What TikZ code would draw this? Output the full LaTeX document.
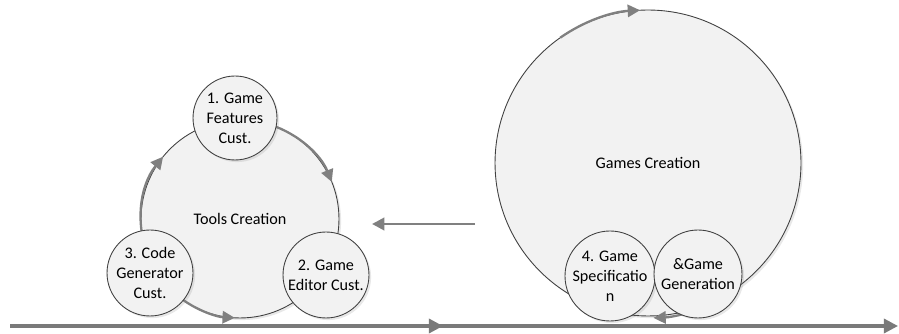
\documentclass[tikz,border=0pt]{standalone}
\usepackage{fontspec}
\setmainfont{Carlito}
\usetikzlibrary{arrows.meta,shadows}

\tikzset{
  stage/.style={circle,draw=black!75,line width=0.5pt,fill=black!5,
    drop shadow={opacity=0.18,shadow xshift=1.2pt,shadow yshift=-1.2pt},
    align=center,inner sep=0pt,font=\fontsize{9.2}{11.3}\selectfont},
  flow/.style={draw=black!50,line width=1.3pt,-{Triangle[length=7pt,width=7pt]}},
  axis/.style={draw=black!52,line width=1.8pt,-{Triangle[length=8pt,width=8pt]}}
}

\begin{document}
\begin{tikzpicture}[x=0.02cm,y=0.02cm]
\useasboundingbox(0,0)rectangle(899,334);
\node[stage,minimum size=3.96cm](tools)at(240,115){Tools Creation};
\node[stage,minimum size=6.12cm](games)at(648,171){\raisebox{-0.1cm}{Games Creation}};
\draw[flow](tools.center)++(205:1.98cm)arc[start angle=205,end angle=141,radius=1.98cm];
\draw[flow](tools.center)++(72:1.98cm)arc[start angle=72,end angle=22,radius=1.98cm];
\draw[flow](tools.center)++(235:1.98cm)arc[start angle=235,end angle=267,radius=1.98cm];
\draw[flow](games.center)++(125:3.06cm)arc[start angle=125,end angle=93,radius=3.06cm];
\draw[flow](games.center)++(292:3.1cm)arc[start angle=292,end angle=272,radius=3.1cm];
\node[stage,minimum size=1.68cm](feat)at(235,216){1. Game\\Features\\Cust.};
\node[stage,minimum size=1.72cm](edit)at(326,59){2. Game\\Editor Cust.};
\node[stage,minimum size=1.72cm](code)at(150,61){3. Code\\Generator\\Cust.};
\node[stage,minimum size=1.72cm](spec)at(610,58){4. Game\\Specificatio\\n};
\node[stage,minimum size=1.76cm](gen)at(698,60){\&Game\\Generation};
\coordinate(from)at(475,110);
\coordinate(to)at(372,110);
\draw[flow,line width=1.6pt](from)--(to);
\coordinate(start)at(10,8);
\coordinate(mid)at(443,8);
\coordinate(stop)at(898,8);
\draw[axis](start)--(stop);
\draw[axis](start)--(mid);
\end{tikzpicture}
\end{document}
